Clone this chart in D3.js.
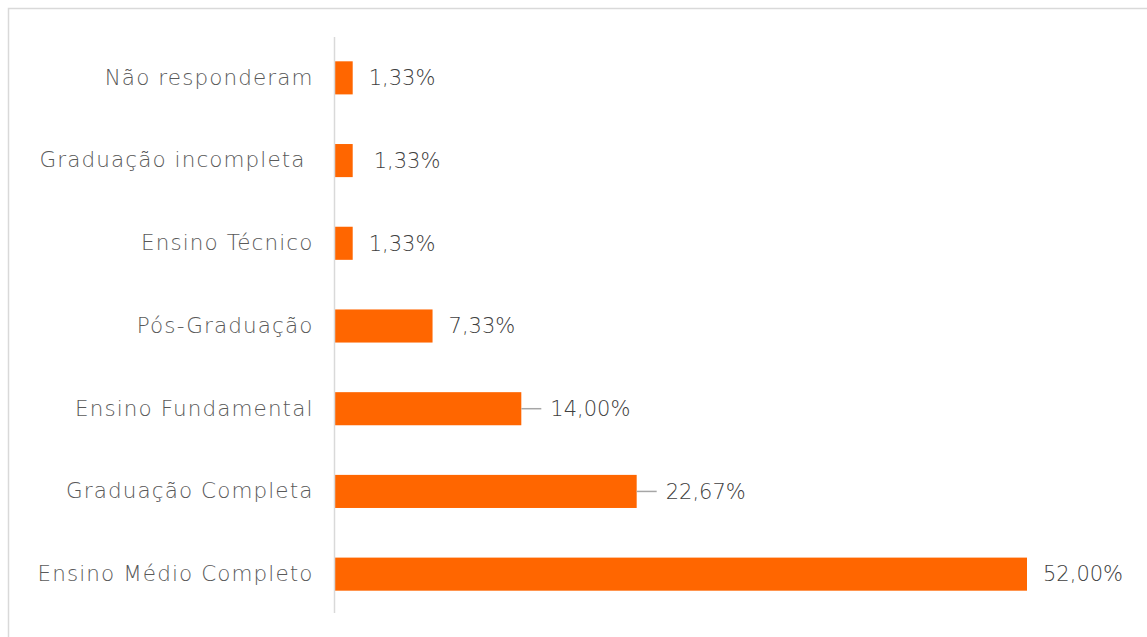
<!DOCTYPE html>
<html>
<head>
<meta charset="utf-8">
<script src="https://cdn.jsdelivr.net/npm/d3@7"></script>
<style>
  body { margin: 0; background: #fff; }
  text { font-family: "DejaVu Sans", sans-serif; font-weight: 300; fill: #595959; }
  .cat text { letter-spacing: 1.1px; }
</style>
</head>
<body>
<div id="chart"></div>
<script>
// ------- Data -------
const categories = ["Não responderam", "Graduação incompleta ", "Ensino Técnico", "Pós-Graduação",
                    "Ensino Fundamental", "Graduação Completa", "Ensino Médio Completo"]
const values = [1.33, 1.33, 1.33, 7.33, 14.00, 22.67, 52.00]
const withLeader = ["Ensino Fundamental", "Graduação Completa"]

const fmt = v => v.toFixed(2).replace(".", ",") + "%"

let width = 1147, height = 637
let svg = d3.select("#chart").append("svg")
    .attr("width", width)
    .attr("height", height)

// chart frame
svg.append("path")
   .attr("d", "M8.5,637 V8.5 H1147")
   .attr("fill", "none")
   .attr("stroke", "#d9d9d9")
   .attr("stroke-width", 1.5)

let xScale = d3.scaleLinear().domain([0, 52]).range([335, 1027])
let yScale = d3.scaleBand().domain(categories).range([36.5, 615.5]).paddingInner(0.6).paddingOuter(0.3)

// bars
svg.selectAll("rect.bar")
   .data(categories)
   .enter()
   .append("rect")
   .attr("class", "bar")
   .attr("x", xScale(0))
   .attr("y", d => yScale(d))
   .attr("width", (d, i) => xScale(values[i]) - xScale(0))
   .attr("height", yScale.bandwidth())
   .attr("fill", "#ff6600")

// category axis
let yAxis = svg.append("g")
   .attr("class", "cat")
   .attr("transform", `translate(${xScale(0) - 0.5},0)`)
   .call(d3.axisLeft(yScale).tickSize(0).tickPadding(21))
yAxis.select(".domain").attr("stroke", "#d9d9d9").attr("stroke-width", 1.5)
     .attr("d", "M0,37V613")
yAxis.selectAll("text")
     .attr("font-size", 21.5)
     .attr("fill", "#595959")
     .attr("font-family", null)
     .style("white-space", "pre")

// leader lines
svg.selectAll("line.leader")
   .data(categories.filter(d => withLeader.includes(d)))
   .enter()
   .append("line")
   .attr("class", "leader")
   .attr("x1", d => xScale(values[categories.indexOf(d)]))
   .attr("x2", d => xScale(values[categories.indexOf(d)]) + 20)
   .attr("y1", d => yScale(d) + yScale.bandwidth() / 2)
   .attr("y2", d => yScale(d) + yScale.bandwidth() / 2)
   .attr("stroke", "#a6a6a6")
   .attr("stroke-width", 1.5)

// value labels
svg.selectAll("text.value")
   .data(categories)
   .enter()
   .append("text")
   .attr("class", "value")
   .attr("x", (d, i) => xScale(values[i]) + (withLeader.includes(d) ? 29 : (i == 1 ? 21 : 16)))
   .attr("y", d => yScale(d) + yScale.bandwidth() / 2)
   .attr("dy", "0.35em")
   .attr("font-size", 21)
   .style("fill", "#404040")
   .text((d, i) => fmt(values[i]))
</script>
</body>
</html>
